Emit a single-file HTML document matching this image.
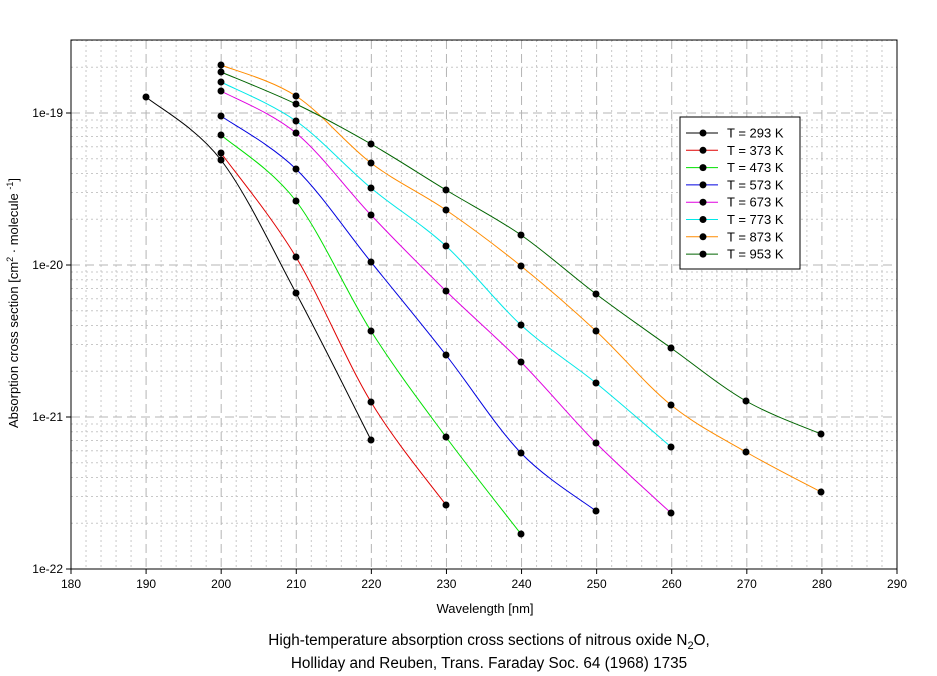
<!DOCTYPE html>
<html><head><meta charset="utf-8"><style>
body{margin:0;background:#fff;}
svg{display:block;font-family:"Liberation Sans",Arial,sans-serif;}
</style></head><body>
<svg id="s" width="937" height="676" xmlns="http://www.w3.org/2000/svg">
<rect width="937" height="676" fill="#fff"/>
<g id="grid"></g>
<rect x="71" y="40" width="826" height="529" fill="none" stroke="#000" stroke-width="1"/>
<g id="ticks" font-size="12"></g>
<g id="series"></g>
<rect x="680" y="117" width="120" height="152" fill="#fff" stroke="#000"/>
<g id="legend" font-size="13"></g>
<text x="485" y="613" font-size="13" text-anchor="middle">Wavelength [nm]</text>
<text transform="translate(18,303) rotate(-90)" font-size="13" text-anchor="middle">Absorption cross section [cm<tspan dy="-5" font-size="9">2</tspan><tspan dy="5"> · molecule </tspan><tspan dy="-5" font-size="9">-1</tspan><tspan dy="5">]</tspan></text>
<text x="489" y="645" font-size="15.3" text-anchor="middle">High-temperature absorption cross sections of nitrous oxide N<tspan dy="4" font-size="11">2</tspan><tspan dy="-4">O,</tspan></text>
<text x="489" y="668" font-size="15.3" text-anchor="middle">Holliday and Reuben, Trans. Faraday Soc. 64 (1968) 1735</text>
</svg>
<script>
const NS="http://www.w3.org/2000/svg";
function el(p,t,a,txt){const e=document.createElementNS(NS,t);for(const k in a)e.setAttribute(k,a[k]);if(txt!==undefined)e.textContent=txt;p.appendChild(e);return e;}
const X=v=>71+(v-180)*826/110, Y=l=>113+(-19-l)*152;
const g=document.getElementById('grid'),tk=document.getElementById('ticks');
for(let v=182;v<290;v+=2){if(v%10==0)continue;el(g,'line',{x1:X(v),x2:X(v),y1:40,y2:569,stroke:'#c8c8c8','stroke-dasharray':'2,3'});}
for(let d=-22;d<=-19;d++)for(let m=2;m<=9;m++){const y=Y(d+Math.log10(m));if(y<40)continue;el(g,'line',{x1:71,x2:897,y1:y,y2:y,stroke:'#c8c8c8','stroke-dasharray':'2,3'});}
for(let v=190;v<290;v+=10)el(g,'line',{x1:X(v),x2:X(v),y1:40,y2:569,stroke:'#b4b4b4','stroke-dasharray':'9,5'});
for(let d=-21;d<=-19;d++)el(g,'line',{x1:71,x2:897,y1:Y(d),y2:Y(d),stroke:'#b4b4b4','stroke-dasharray':'9,5'});
for(let v=180;v<=290;v+=10){el(tk,'line',{x1:X(v),x2:X(v),y1:569,y2:574,stroke:'#000'});el(tk,'text',{x:X(v),y:588,'text-anchor':'middle'},v);}
for(let d=-22;d<=-19;d++){el(tk,'line',{x1:66,x2:71,y1:Y(d),y2:Y(d),stroke:'#000'});el(tk,'text',{x:63,y:Y(d)+4,'text-anchor':'end'},'1e'+d);}
const S=[
['#000','293',[[146,97],[221,160],[296,293],[371,440]]],
['#e00000','373',[[221,153],[296,257],[371,402],[446,505]]],
['#00e000','473',[[221,135],[296,201],[371,331],[446,437],[521,534]]],
['#0000e0','573',[[221,116],[296,169],[371,262],[446,355],[521,453],[596,511]]],
['#e000e0','673',[[221,91],[296,133],[371,215],[446,291],[521,362],[596,443],[671,513]]],
['#00e8e8','773',[[221,82],[296,121],[371,188],[446,246],[521,325],[596,383],[671,447]]],
['#ff8c00','873',[[221,65],[296,96],[371,163],[446,210],[521,266],[596,331],[671,405],[746,452],[821,492]]],
['#006400','953',[[221,72],[296,104],[371,144],[446,190],[521,235],[596,294],[671,348],[746,401],[821,434]]]];
const sg=document.getElementById('series'),lg=document.getElementById('legend');
S.forEach((s,i)=>{const p=s[2];let d='M'+p[0];
for(let k=0;k<p.length-1;k++){const a=p[k-1]||p[k],b=p[k],c=p[k+1],e=p[k+2]||c;
d+=' C'+(b[0]+(c[0]-a[0])/6)+','+(b[1]+(c[1]-a[1])/6)+' '+(c[0]-(e[0]-b[0])/6)+','+(c[1]-(e[1]-b[1])/6)+' '+c;}
el(sg,'path',{d:d,fill:'none',stroke:s[0],'stroke-width':1});
p.forEach(q=>el(sg,'circle',{cx:q[0],cy:q[1],r:3.5,fill:'#000'}));
const y=133+i*17.3;el(lg,'line',{x1:686,x2:718,y1:y,y2:y,stroke:s[0]});el(lg,'circle',{cx:703,cy:y,r:3.5,fill:'#000'});
el(lg,'text',{x:727,y:y+4.5},'T = '+s[1]+' K');});
</script>
</body></html>
